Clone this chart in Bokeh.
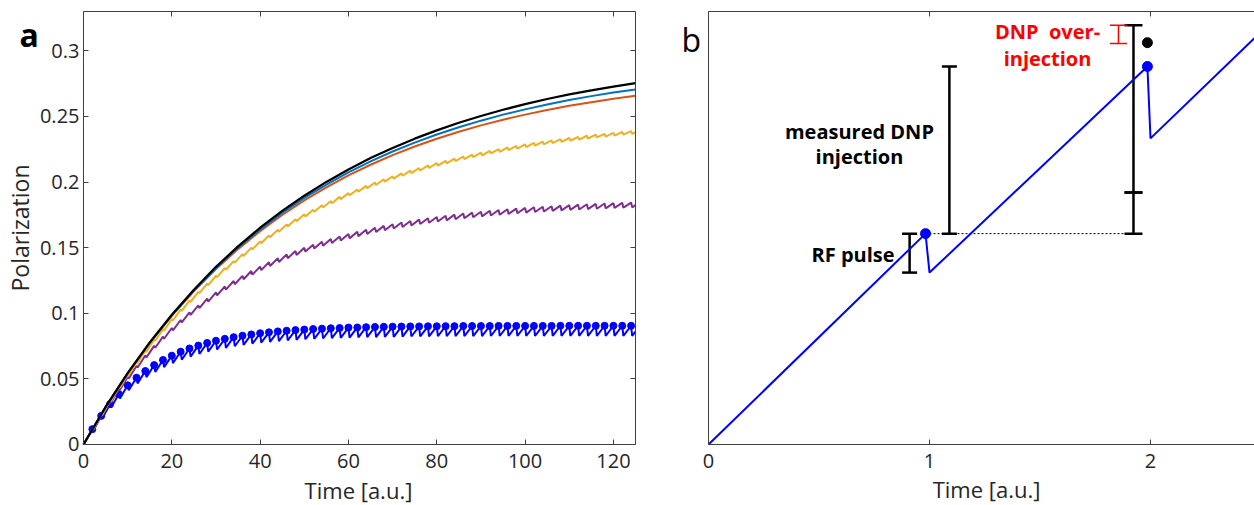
import math
from bokeh.plotting import figure
from bokeh.models import (ColumnDataSource, FixedTicker, LinearAxis, Range1d, Label,
                          Whisker, TeeHead, CustomJSTickFormatter)
from bokeh.layouts import row
from bokeh.embed import file_html
from bokeh.resources import INLINE

# ---------------- Panel a data ----------------
t_smooth = [0, 5, 10, 15, 20, 25, 30, 35, 40, 45, 50, 55, 60, 65, 70, 75, 80, 85, 90, 95,
            100, 105, 110, 115, 120, 125]
pol_black = [0, 0.0286, 0.0544, 0.0778, 0.0989, 0.1180, 0.1354, 0.1510, 0.1652, 0.1780,
             0.1896, 0.2001, 0.2096, 0.2183, 0.2260, 0.2331, 0.2394, 0.2452, 0.2504, 0.2551,
             0.2594, 0.2633, 0.2668, 0.2699, 0.2728, 0.2754]
pol_lightblue = [0, 0.0285, 0.0543, 0.0775, 0.0985, 0.1174, 0.1345, 0.1500, 0.1639, 0.1765,
                 0.1879, 0.1981, 0.2074, 0.2158, 0.2233, 0.2301, 0.2363, 0.2418, 0.2468, 0.2514,
                 0.2554, 0.2591, 0.2625, 0.2655, 0.2682, 0.2706]
pol_orange = [0, 0.0285, 0.0541, 0.0772, 0.0981, 0.1168, 0.1337, 0.1489, 0.1626, 0.1749,
              0.1860, 0.1960, 0.2051, 0.2132, 0.2205, 0.2271, 0.2330, 0.2383, 0.2432, 0.2475,
              0.2514, 0.2549, 0.2581, 0.2609, 0.2635, 0.2658]

pulse_times = list(range(2, 125, 2))
t_end = 125

yellow_peaks = [0.0117, 0.0229, 0.0335, 0.0437, 0.0534, 0.0626, 0.0714, 0.0798, 0.0878, 0.0955,
                0.1028, 0.1097, 0.1163, 0.1226, 0.1286, 0.1344, 0.1398, 0.1451, 0.1500, 0.1548,
                0.1593, 0.1636, 0.1677, 0.1716, 0.1754, 0.1789, 0.1823, 0.1856, 0.1887, 0.1916,
                0.1944, 0.1971, 0.1996, 0.2021, 0.2044, 0.2066, 0.2087, 0.2107, 0.2127, 0.2145,
                0.2162, 0.2179, 0.2195, 0.2210, 0.2224, 0.2238, 0.2251, 0.2264, 0.2276, 0.2287,
                0.2298, 0.2308, 0.2318, 0.2327, 0.2336, 0.2345, 0.2353, 0.2361, 0.2368, 0.2375,
                0.2382, 0.2388]
yellow_troughs = [0.0116, 0.0227, 0.0332, 0.0433, 0.0529, 0.0621, 0.0708, 0.0791, 0.0870, 0.0946,
                  0.1018, 0.1087, 0.1153, 0.1215, 0.1275, 0.1332, 0.1386, 0.1437, 0.1487, 0.1534,
                  0.1579, 0.1621, 0.1662, 0.1701, 0.1738, 0.1773, 0.1807, 0.1839, 0.1870, 0.1899,
                  0.1927, 0.1953, 0.1978, 0.2003, 0.2026, 0.2048, 0.2068, 0.2088, 0.2107, 0.2126,
                  0.2143, 0.2159, 0.2175, 0.2190, 0.2204, 0.2218, 0.2231, 0.2243, 0.2255, 0.2266,
                  0.2277, 0.2287, 0.2297, 0.2307, 0.2315, 0.2324, 0.2332, 0.2340, 0.2347, 0.2354,
                  0.2361, 0.2367]
yellow_end = 0.2379

purple_peaks = [0.0116, 0.0226, 0.0328, 0.0424, 0.0514, 0.0599, 0.0678, 0.0752, 0.0822, 0.0888,
                0.0949, 0.1007, 0.1061, 0.1112, 0.1159, 0.1204, 0.1246, 0.1285, 0.1322, 0.1356,
                0.1389, 0.1419, 0.1448, 0.1474, 0.1500, 0.1523, 0.1545, 0.1566, 0.1585, 0.1604,
                0.1621, 0.1637, 0.1652, 0.1666, 0.1679, 0.1692, 0.1703, 0.1714, 0.1724, 0.1734,
                0.1743, 0.1752, 0.1760, 0.1767, 0.1774, 0.1781, 0.1787, 0.1793, 0.1798, 0.1803,
                0.1808, 0.1812, 0.1816, 0.1820, 0.1824, 0.1828, 0.1831, 0.1834, 0.1837, 0.1839,
                0.1842, 0.1844]
purple_troughs = [0.0114, 0.0221, 0.0321, 0.0416, 0.0504, 0.0587, 0.0664, 0.0737, 0.0806, 0.0870,
                  0.0930, 0.0987, 0.1040, 0.1089, 0.1136, 0.1180, 0.1221, 0.1259, 0.1295, 0.1329,
                  0.1361, 0.1391, 0.1419, 0.1445, 0.1470, 0.1493, 0.1514, 0.1535, 0.1554, 0.1571,
                  0.1588, 0.1604, 0.1619, 0.1633, 0.1646, 0.1658, 0.1669, 0.1680, 0.1690, 0.1699,
                  0.1708, 0.1717, 0.1724, 0.1732, 0.1739, 0.1745, 0.1751, 0.1757, 0.1762, 0.1767,
                  0.1772, 0.1776, 0.1780, 0.1784, 0.1788, 0.1791, 0.1794, 0.1797, 0.1800, 0.1803,
                  0.1805, 0.1807]
purple_end = 0.1824

blue_peaks = [0.0117, 0.0218, 0.0307, 0.0384, 0.0451, 0.0509, 0.0560, 0.0605, 0.0644, 0.0677,
              0.0707, 0.0732, 0.0754, 0.0774, 0.0791, 0.0805, 0.0818, 0.0829, 0.0839, 0.0848,
              0.0855, 0.0862, 0.0867, 0.0872, 0.0876, 0.0880, 0.0883, 0.0886, 0.0888, 0.0891,
              0.0892, 0.0894, 0.0896, 0.0897, 0.0898, 0.0899, 0.0900, 0.0900, 0.0901, 0.0901,
              0.0902, 0.0902, 0.0903, 0.0903, 0.0903, 0.0903, 0.0904, 0.0904, 0.0904, 0.0904,
              0.0904, 0.0904, 0.0904, 0.0905, 0.0905, 0.0905, 0.0905, 0.0905, 0.0905, 0.0905,
              0.0905, 0.0905]
blue_troughs = [0.0107, 0.0200, 0.0281, 0.0351, 0.0413, 0.0466, 0.0513, 0.0553, 0.0589, 0.0620,
                0.0646, 0.0670, 0.0690, 0.0708, 0.0724, 0.0737, 0.0749, 0.0759, 0.0768, 0.0776,
                0.0782, 0.0788, 0.0793, 0.0798, 0.0802, 0.0805, 0.0808, 0.0811, 0.0813, 0.0815,
                0.0817, 0.0818, 0.0819, 0.0821, 0.0821, 0.0822, 0.0823, 0.0824, 0.0824, 0.0825,
                0.0825, 0.0826, 0.0826, 0.0826, 0.0826, 0.0827, 0.0827, 0.0827, 0.0827, 0.0827,
                0.0827, 0.0827, 0.0828, 0.0828, 0.0828, 0.0828, 0.0828, 0.0828, 0.0828, 0.0828,
                0.0828, 0.0828]
blue_end = 0.0861

a_xlim = (0, 125)
a_ylim = (0, 0.33)
a_xticks = [0, 20, 40, 60, 80, 100, 120]
a_yticks = [0, 0.05, 0.1, 0.15, 0.2, 0.25, 0.3]

# ---------------- Panel b data ----------------
b_time = [0, 0.982, 1.0, 1.986, 2.0, 2.47]
b_pol = [0, 0.487, 0.397, 0.873, 0.707, 0.938]
b_pulse_time = [0.982, 1.986]
b_pulse_pol = [0.487, 0.873]
b_ideal_time = [1.986]
b_ideal_pol = [0.928]
b_ref_time = [0.982, 1.92]
b_ref_pol = [0.487, 0.487]
rf_bar = dict(x=[0.91], lower=[0.397], upper=[0.487])
meas_bar = dict(x=[1.09], lower=[0.487], upper=[0.873])
total_bar = dict(x=[1.923, 1.923], lower=[0.487, 0.582], upper=[0.582, 0.968])
over_bar = dict(x=[1.855], lower=[0.926], upper=[0.968])
b_xlim = (0, 2.4706)
b_ylim = (0, 1)
b_xticks = [0, 1, 2]

# ---------------- styling ----------------
FONT = "Open Sans"
AX = "#404040"
TXT = "#262626"
DROP_DT = 0.25


def style_axis(ax, ticks, labels=True, tick_marks=True):
    ax.ticker = FixedTicker(ticks=ticks)
    ax.axis_line_color = AX
    ax.axis_line_width = 1
    ax.major_tick_in = 5 if tick_marks else 0
    ax.major_tick_out = 0
    ax.major_tick_line_color = AX if tick_marks else None
    ax.minor_tick_line_color = None
    ax.major_label_text_font = FONT
    ax.major_label_text_color = TXT
    if labels:
        ax.major_label_text_font_size = "20px"
    else:
        ax.major_label_text_font_size = "1px"
        ax.major_label_text_color = None
        ax.major_label_standoff = 0
    ax.formatter = CustomJSTickFormatter(code="return String(Number(tick.toFixed(3)));")


def pinned_axis(fig, side, loc, bounds, ticks, labels=True, tick_marks=True, standoff=4):
    ax = LinearAxis(fixed_location=loc, bounds=bounds)
    style_axis(ax, ticks, labels=labels, tick_marks=tick_marks)
    if labels:
        ax.major_label_standoff = standoff
    fig.add_layout(ax, side)
    return ax


def sawtooth(peaks, troughs, end):
    xs, ys = [0.0], [0.0]
    for t, pk, tr in zip(pulse_times, peaks, troughs):
        xs += [t, t + DROP_DT]
        ys += [pk, tr]
    xs.append(t_end)
    ys.append(end)
    return xs, ys


def add_text(fig, x, y, text, color="black", align="center", size="20px", style="bold",
             baseline="middle", angle=0.0):
    fig.add_layout(Label(x=x, y=y, text=text, text_font=FONT, text_font_size=size,
                         text_font_style=style, text_color=color, angle=angle,
                         text_align=align, text_baseline=baseline))


def base_fig(width, xr, yr):
    f = figure(width=width, height=505, x_range=Range1d(*xr), y_range=Range1d(*yr),
               output_backend="svg", toolbar_location=None,
               x_axis_location=None, y_axis_location=None,
               min_border_left=0, min_border_right=0, min_border_top=0, min_border_bottom=0)
    f.grid.visible = False
    f.outline_line_color = None
    f.background_fill_color = "white"
    f.border_fill_color = "white"
    return f


# ---------------- Panel a ----------------
# the frame fills the whole figure; the box axes are pinned at the data limits
p1 = base_fig(660, (-18.795, 130.661), (-0.04649, 0.33838))
pinned_axis(p1, "below", a_ylim[0], a_xlim, a_xticks, standoff=10)
pinned_axis(p1, "left", a_xlim[0], a_ylim, a_yticks, standoff=4)
pinned_axis(p1, "above", a_ylim[1], a_xlim, a_xticks, labels=False)
pinned_axis(p1, "right", a_xlim[1], a_ylim, a_yticks, labels=False)

bx, by = sawtooth(blue_peaks, blue_troughs, blue_end)
p1.line(bx, by, line_color="#0000FF", line_width=2)
p1.scatter(pulse_times, blue_peaks, size=7, fill_color="#0000FF", line_color="#0000FF")
px_, py_ = sawtooth(purple_peaks, purple_troughs, purple_end)
p1.line(px_, py_, line_color="#7E2F8E", line_width=2)
yx, yy = sawtooth(yellow_peaks, yellow_troughs, yellow_end)
p1.line(yx, yy, line_color="#EDB120", line_width=2)
p1.line(t_smooth, pol_orange, line_color="#D95319", line_width=2)
p1.line(t_smooth, pol_lightblue, line_color="#0072BD", line_width=2)
p1.line(t_smooth, pol_black, line_color="black", line_width=2.2)

add_text(p1, 62.27, -0.0343, "Time [a.u.]", color=TXT, size="22px", style="normal")
add_text(p1, -14.49, 0.165, "Polarization", color=TXT, size="23px", style="normal",
         angle=math.pi / 2)
add_text(p1, -14.49, 0.31247, "a", align="left", size="32px", style="bold", baseline="alphabetic")

# ---------------- Panel b ----------------
p2 = base_fig(594, (-0.2172, 2.4706), (-0.14088, 1.0254))
pinned_axis(p2, "below", b_ylim[0], b_xlim, b_xticks, standoff=10)
pinned_axis(p2, "left", b_xlim[0], b_ylim, [], labels=False, tick_marks=False)
pinned_axis(p2, "above", b_ylim[1], b_xlim, b_xticks, labels=False)

p2.line(b_ref_time, b_ref_pol, line_color="black", line_width=1, line_dash="2 2")
p2.line(b_time, b_pol, line_color="#0000FF", line_width=2)
p2.scatter(b_pulse_time, b_pulse_pol, size=10, fill_color="#0000FF", line_color="#0000FF")
p2.scatter(b_ideal_time, b_ideal_pol, size=10, fill_color="black", line_color="black")


def add_bar(fig, data, color, width, head):
    src = ColumnDataSource(data)
    fig.add_layout(Whisker(source=src, base="x", lower="lower", upper="upper",
                           dimension="height", line_color=color, line_width=width,
                           lower_head=TeeHead(size=head, line_color=color, line_width=width),
                           upper_head=TeeHead(size=head, line_color=color, line_width=width)))


add_bar(p2, rf_bar, "black", 2.5, 15)
add_bar(p2, meas_bar, "black", 2.5, 15)
add_bar(p2, total_bar, "black", 2.5, 18)
add_bar(p2, over_bar, "#FF0000", 1.5, 17)

add_text(p2, 0.683, 0.723, "measured DNP")
add_text(p2, 0.683, 0.665, "injection")
add_text(p2, 0.842, 0.439, "RF pulse", align="right")
add_text(p2, 1.534, 0.954, "DNP \u00a0over-", color="#FF0000")
add_text(p2, 1.534, 0.891, "injection", color="#FF0000")
add_text(p2, 1.258, -0.1039, "Time [a.u.]", color=TXT, size="22px", style="normal")
add_text(p2, -0.1222, 0.9353, "b", align="left", size="32px", style="normal", baseline="alphabetic")

layout = row(p1, p2)
open("out.html", "w").write(file_html(layout, INLINE))
